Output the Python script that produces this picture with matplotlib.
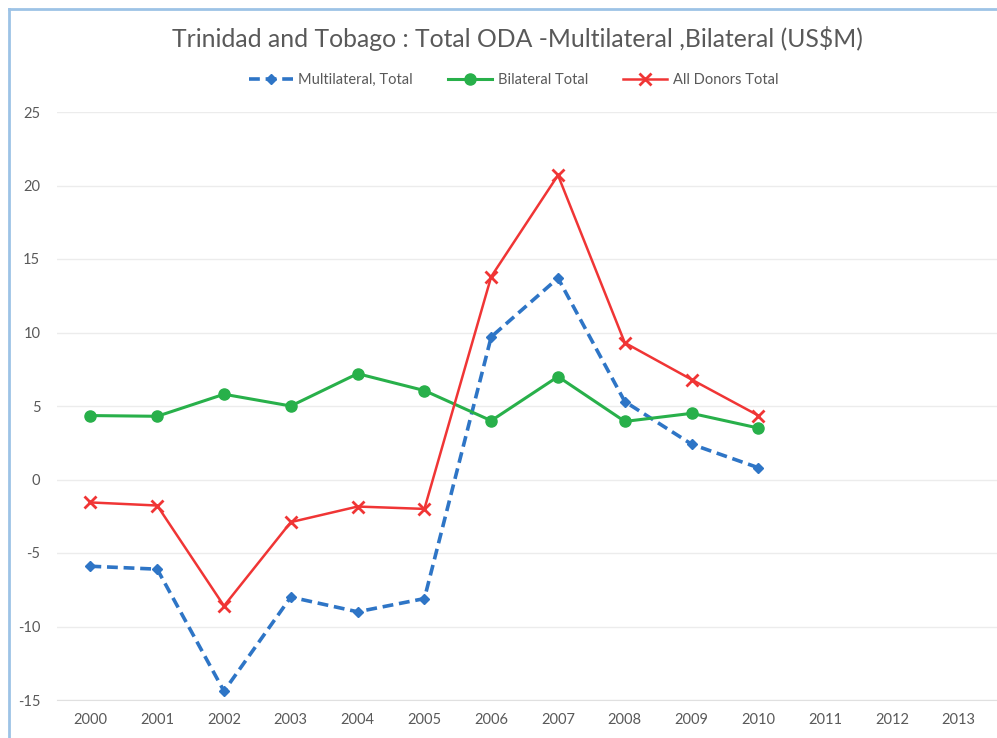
import numpy as np
import matplotlib.pyplot as plt
from matplotlib.lines import Line2D

years = [str(y) for y in range(2000, 2014)]
multilateral = [-5.9, -6.1, -14.4, -8.0, -9.0, -8.1, 9.7, 13.7, 5.3, 2.4, 0.8]
bilateral = [4.35, 4.3, 5.8, 5.0, 7.2, 6.05, 4.0, 7.0, 3.95, 4.5, 3.5]
all_donors = [-1.56, -1.77, -8.6, -2.9, -1.84, -2.0, 13.8, 20.7, 9.3, 6.8, 4.35]

plt.rcParams['font.family'] = ['Lato', 'DejaVu Sans']
plt.rcParams['axes.unicode_minus'] = False

fig = plt.figure(figsize=(9.97, 7.38), dpi=100)
# axes run off the right edge of the screenshot, like the cropped original
ax = fig.add_axes([57 / 997, 38 / 738, 940 / 997, 588 / 738])

x = np.arange(len(multilateral))
ax.plot(x, multilateral, color='#2e75c6', lw=2.6, ls=(0, (3, 1.6)), marker='D', ms=5,
        label='Multilateral, Total')
ax.plot(x, bilateral, color='#28b04a', lw=2.2, marker='o', ms=8, label='Bilateral Total')
ax.plot(x, all_donors, color='#f03535', lw=1.8, marker='x', ms=8, mew=2,
        label='All Donors Total')

ax.set_xlim(-0.5, -0.5 + 940 / 66.8)
ax.set_ylim(-15, 25)
ax.set_xticks(range(len(years)))
ax.set_xticklabels(years)
ax.set_yticks(range(-15, 26, 5))
ax.tick_params(length=0, labelsize=10.5, colors='#595959', pad=9)
ax.tick_params(axis='y', pad=12)
ax.grid(axis='y', color='#ececec', lw=1)
ax.set_axisbelow(True)
for s in ['top', 'right', 'left']:
    ax.spines[s].set_visible(False)
ax.spines['bottom'].set_color('#e0e0e0')

fig.text(0.519, 0.948, 'Trinidad and Tobago : Total ODA -Multilateral ,Bilateral (US$M)',
         ha='center', va='center', fontsize=17.8, color='#595959')
fig.legend(loc='center', bbox_to_anchor=(0.515, 0.892), ncol=3, frameon=False,
           fontsize=10.5, labelcolor='#595959', handlelength=3, columnspacing=2.4,
           handletextpad=0.4)

# blue frame at the top and left edge of the screenshot
fig.add_artist(Line2D([9 / 997, 9 / 997], [0, 1 - 9 / 738], color='#9dc3e6', lw=2,
                      transform=fig.transFigure))
fig.add_artist(Line2D([9 / 997, 1], [1 - 9 / 738, 1 - 9 / 738], color='#9dc3e6', lw=2,
                      transform=fig.transFigure))

fig.savefig('out.png', dpi=100)
